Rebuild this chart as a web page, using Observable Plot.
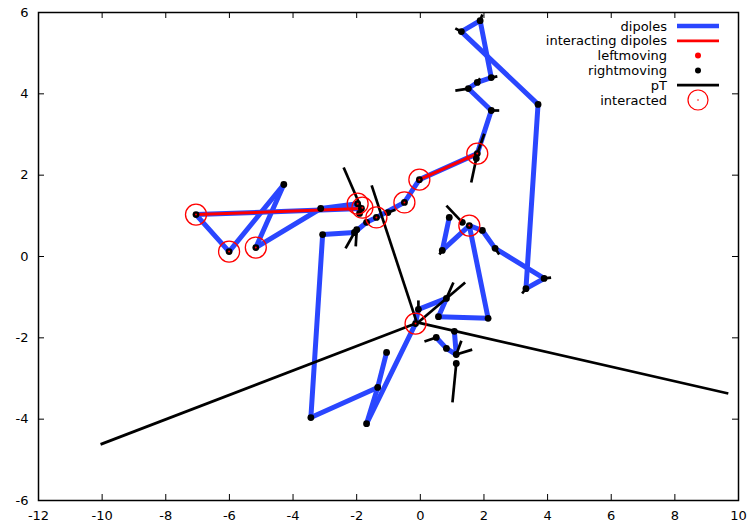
<!DOCTYPE html>
<html><head><meta charset="utf-8">
<script src="https://cdn.jsdelivr.net/npm/d3@7"></script>
<script src="https://cdn.jsdelivr.net/npm/@observablehq/plot@0.6"></script>
<style>
body{margin:0;background:#fff;}
#wrap{position:relative;width:748px;height:523px;}
#legend{position:absolute;left:0;top:0;}
</style></head><body><div id="wrap"></div>
<script>
// ---- data ----
const xTicks = [-12,-10,-8,-6,-4,-2,0,2,4,6,8,10];
const yTicks = [-6,-4,-2,0,2,4,6];

// dipoles (segments)
const dipoleX1 = [-7.05,-7.05,-6.01,-4.29,-5.17,-3.13,-1.97,-2.07,-1.69,-1.38,-0.50,-0.03,1.79,2.23,1.51,1.79,2.23,1.88,1.29,3.70,3.32,3.89,2.35,1.95,1.54,2.13,0.57,0.82,-0.06,-0.15,-1.69,-1.34,-1.34,-3.44,-3.07,0.91,0.69,0.50,0.82,1.07];
const dipoleY1 = [1.03,1.03,0.12,1.77,0.22,1.18,1.30,0.59,0.84,0.96,1.33,1.89,2.53,3.59,4.13,4.28,4.40,5.80,5.53,3.74,-0.79,-0.54,0.20,0.64,0.76,-1.52,-1.48,-1.03,-1.30,-1.65,-4.11,-3.22,-3.22,-3.96,0.54,0.96,0.15,-1.99,-2.26,-1.84];
const dipoleX2 = [-1.85,-6.01,-4.29,-5.17,-3.13,-1.97,-1.91,-1.69,-1.38,-0.50,-0.03,1.79,2.23,1.51,1.79,2.23,1.88,1.29,3.70,3.32,3.89,2.35,1.95,1.54,2.13,0.57,0.82,-0.06,-0.15,-1.69,-1.34,-1.06,-3.44,-3.07,-2.07,0.69,1.54,0.82,1.13,1.13];
const dipoleY2 = [1.18,0.12,1.77,0.22,1.18,1.30,1.06,0.84,0.96,1.33,1.89,2.53,3.59,4.13,4.28,4.40,5.80,5.53,3.74,-0.79,-0.54,0.20,0.64,0.76,-1.52,-1.48,-1.03,-1.30,-1.65,-4.11,-3.22,-2.36,-3.96,0.54,0.59,0.15,0.76,-2.26,-2.41,-2.41];

// interacting dipoles
const interX1 = [-7.05,-0.03];
const interY1 = [1.03,1.89];
const interX2 = [-1.85,1.79];
const interY2 = [1.18,2.53];

// pT (from particle to end of momentum line)
const ptX1 = [1.88,1.29,2.23,1.79,1.51,2.23,1.79,1.76,1.32,0.69,2.35,3.89,3.32,-0.06,-0.15,-0.10,-0.12,-0.08,0.82,0.50,1.13,1.13,1.13,-1.85,-2.07,-2.00,-1.02];
const ptY1 = [5.80,5.53,4.40,4.28,4.13,3.59,2.53,2.41,0.84,0.15,0.20,-0.54,-0.79,-1.30,-1.65,-1.62,-1.60,-1.63,-1.03,-1.99,-2.41,-2.41,-2.63,1.18,0.59,0.66,1.08];
const ptX2 = [1.95,1.10,2.42,1.88,1.10,2.48,2.01,1.60,0.82,0.60,2.48,4.11,3.20,-0.06,-10.05,9.68,-1.53,1.41,1.04,0.13,1.63,1.29,1.01,-2.41,-2.35,-2.03,-0.78];
const ptY2 = [5.95,5.61,4.43,4.38,4.08,3.59,3.02,1.82,1.25,0.05,0.05,-0.52,-0.91,-1.08,-4.62,-3.37,1.75,-0.64,-0.64,-2.09,-2.29,-2.07,-3.59,2.19,0.20,0.25,1.15];

// rightmoving particles
const rightX = [-7.05,-6.01,-4.29,-5.17,-3.13,-1.97,-1.85,-1.38,-0.50,-0.03,1.79,1.76,2.23,1.51,1.79,2.23,1.88,1.29,3.70,3.32,3.89,2.35,1.95,1.54,2.13,0.57,0.82,-0.06,-0.15,-1.69,-1.34,-1.06,-3.44,-3.07,-2.07,-2.00,0.91,0.69,1.32,0.50,0.82,1.13,1.07,1.13,-1.69,-1.91,-1.02];
const rightY = [1.03,0.12,1.77,0.22,1.18,1.30,1.18,0.96,1.33,1.89,2.53,2.41,3.59,4.13,4.28,4.40,5.80,5.53,3.74,-0.79,-0.54,0.20,0.64,0.76,-1.52,-1.48,-1.03,-1.30,-1.65,-4.11,-3.22,-2.36,-3.96,0.54,0.59,0.66,0.96,0.15,0.84,-1.99,-2.26,-2.41,-1.84,-2.63,0.84,1.06,1.08];

// leftmoving particles (none visible)
const leftX = [];
const leftY = [];

// interacted particles
const hitX = [-7.05,-6.01,-5.17,-1.97,-1.82,-1.38,-0.50,-0.03,1.79,1.54,-0.15];
const hitY = [1.03,0.12,0.22,1.30,1.20,0.96,1.33,1.89,2.53,0.76,-1.65];

const legendLabels = ["dipoles","interacting dipoles","leftmoving","rightmoving","pT","interacted"];

// ---- build tables ----
const seg = (a,b,c,d) => a.map((x1,i)=>({x1, y1:b[i], x2:c[i], y2:d[i]}));
const pts = (a,b) => a.map((x,i)=>({x, y:b[i]}));
const dipoles = seg(dipoleX1,dipoleY1,dipoleX2,dipoleY2);
const inters = seg(interX1,interY1,interX2,interY2);
const pts_pT = seg(ptX1,ptY1,ptX2,ptY2);
const right = pts(rightX,rightY);
const left = pts(leftX,leftY);
const hits = pts(hitX,hitY);

const W = 748, H = 523, mL = 38, mR = 10, mT = 12, mB = 23;
const fw = W - mL - mR, fh = H - mT - mB, tl = 6;
const BLUE = "#2a46ff";
const fmt = d => String(d);

const chart = Plot.plot({
  width: W, height: H,
  marginLeft: mL, marginRight: mR, marginTop: mT, marginBottom: mB,
  style: {fontFamily: "DejaVu Sans", fontSize: "13px", background: "white", color: "black"},
  x: {domain: [-12, 10]},
  y: {domain: [-6, 6]},
  marks: [
    Plot.link(dipoles, {x1:"x1", y1:"y1", x2:"x2", y2:"y2", stroke: BLUE, strokeWidth: 5, strokeLinecap: "round"}),
    Plot.link(inters, {x1:"x1", y1:"y1", x2:"x2", y2:"y2", stroke: "red", strokeWidth: 3}),
    Plot.link(pts_pT, {x1:"x1", y1:"y1", x2:"x2", y2:"y2", stroke: "black", strokeWidth: 2.7}),
    Plot.dot(right, {x:"x", y:"y", r: 3.4, fill: "black"}),
    Plot.dot(left, {x:"x", y:"y", r: 3.4, fill: "red"}),
    Plot.dot(hits, {x:"x", y:"y", r: 10.5, stroke: "red", strokeWidth: 1.3, fill: "none"}),
    Plot.dot(hits, {x:"x", y:"y", r: 1, fill: "red"}),
    Plot.ruleX(xTicks, {x: d=>d, insetTop: fh - tl, stroke: "black"}),
    Plot.ruleX(xTicks, {x: d=>d, insetBottom: fh - tl, stroke: "black"}),
    Plot.ruleY(yTicks, {y: d=>d, insetRight: fw - tl, stroke: "black"}),
    Plot.ruleY(yTicks, {y: d=>d, insetLeft: fw - tl, stroke: "black"}),
    Plot.axisX({ticks: xTicks, tickSize: 0, tickPadding: 10, tickFormat: fmt, label: null}),
    Plot.axisY({ticks: yTicks, tickSize: 0, tickPadding: 10, tickFormat: fmt, label: null}),
    Plot.frame({stroke: "black", strokeWidth: 1.5})
  ]
});
const wrap = document.getElementById("wrap");
wrap.appendChild(chart);

// ---- legend ----
const lg = d3.select(wrap).append("svg").attr("id","legend")
  .attr("width", W).attr("height", 120)
  .style("font-family","DejaVu Sans").style("font-size","13px");
const rowY = i => 26 + i * 14.8;
const textX = 667, sx1 = 677, sx2 = 719, sc = 698;
legendLabels.forEach((lab, i) => {
  const y = rowY(i);
  lg.append("text").attr("x", textX).attr("y", y).attr("dy","0.35em")
    .attr("text-anchor","end").attr("fill","black").text(lab);
  if (i === 0) lg.append("line").attr("x1",sx1).attr("x2",sx2).attr("y1",y).attr("y2",y).attr("stroke",BLUE).attr("stroke-width",4.5);
  if (i === 1) lg.append("line").attr("x1",sx1).attr("x2",sx2).attr("y1",y).attr("y2",y).attr("stroke","red").attr("stroke-width",2.8);
  if (i === 2) lg.append("circle").attr("cx",sc).attr("cy",y).attr("r",3).attr("fill","red");
  if (i === 3) lg.append("circle").attr("cx",sc).attr("cy",y).attr("r",3).attr("fill","black");
  if (i === 4) lg.append("line").attr("x1",sx1).attr("x2",sx2).attr("y1",y).attr("y2",y).attr("stroke","black").attr("stroke-width",2.8);
  if (i === 5) {
    lg.append("circle").attr("cx",sc).attr("cy",y).attr("r",10).attr("fill","none").attr("stroke","red").attr("stroke-width",1.2);
    lg.append("circle").attr("cx",sc).attr("cy",y).attr("r",0.8).attr("fill","red");
  }
});
</script></body></html>
